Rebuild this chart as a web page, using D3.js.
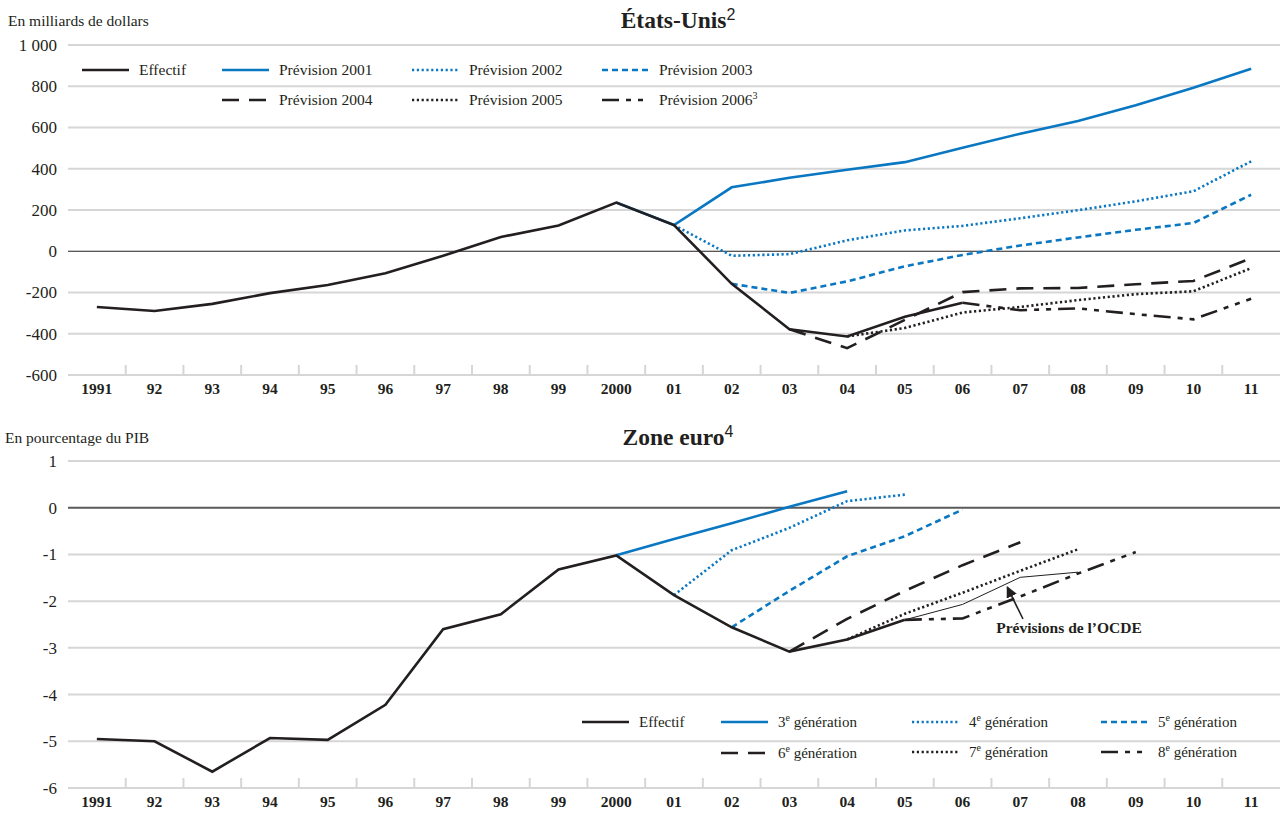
<!DOCTYPE html>
<html>
<head>
<meta charset="utf-8">
<script src="https://cdn.jsdelivr.net/npm/d3@7"></script>
<style>
  html, body { margin: 0; padding: 0; background: #fff; }
  svg { display: block; font-family: "Liberation Serif", "Times New Roman", serif; }
</style>
</head>
<body>
<svg id="chart" width="1286" height="814"></svg>
<script>
// Years on the horizontal axis (shared by both panels)
const years = d3.range(1991, 2012);
const yearLabels = ["1991","92","93","94","95","96","97","98","99","2000","01","02","03","04","05","06","07","08","09","10","11"];

// United States: budget balance, billions of dollars
const usTicks = [-600, -400, -200, 0, 200, 400, 600, 800, 1000];
const usActual = [[1991,-270],[1992,-290],[1993,-255],[1994,-203],[1995,-164],[1996,-107],[1997,-22],[1998,69],[1999,125],[2000,236],[2001,127],[2002,-158],[2003,-378],[2004,-413],[2005,-318],[2006,-250]];
const usForecast2001 = [[2000,236],[2001,127],[2002,310],[2003,356],[2004,395],[2005,432],[2006,502],[2007,570],[2008,632],[2009,708],[2010,793],[2011,885]];
const usForecast2002 = [[2001,127],[2002,-22],[2003,-14],[2004,53],[2005,101],[2006,123],[2007,160],[2008,199],[2009,242],[2010,291],[2011,436]];
const usForecast2003 = [[2002,-158],[2003,-202],[2004,-146],[2005,-73],[2006,-18],[2007,28],[2008,67],[2009,104],[2010,137],[2011,274]];
const usForecast2004 = [[2003,-378],[2004,-470],[2005,-333],[2006,-198],[2007,-180],[2008,-178],[2009,-160],[2010,-144],[2011,-34]];
const usForecast2005 = [[2004,-413],[2005,-372],[2006,-297],[2007,-270],[2008,-237],[2009,-208],[2010,-194],[2011,-82]];
const usForecast2006 = [[2006,-250],[2007,-286],[2008,-277],[2009,-305],[2010,-330],[2011,-230]];

// Euro area: budget balance, per cent of GDP
const euTicks = [-6, -5, -4, -3, -2, -1, 0, 1];
const euActual = [[1991,-4.95],[1992,-5.0],[1993,-5.65],[1994,-4.93],[1995,-4.97],[1996,-4.22],[1997,-2.6],[1998,-2.28],[1999,-1.32],[2000,-1.02],[2001,-1.87],[2002,-2.56],[2003,-3.08],[2004,-2.82],[2005,-2.4]];
const euGen3 = [[2000,-1.02],[2001,-0.67],[2002,-0.33],[2003,0.02],[2004,0.35]];
const euGen4 = [[2001,-1.87],[2002,-0.91],[2003,-0.43],[2004,0.14],[2005,0.28]];
const euGen5 = [[2002,-2.56],[2003,-1.78],[2004,-1.04],[2005,-0.61],[2006,-0.04]];
const euGen6 = [[2003,-3.08],[2004,-2.38],[2005,-1.78],[2006,-1.23],[2007,-0.74]];
const euGen7 = [[2004,-2.82],[2005,-2.27],[2006,-1.82],[2007,-1.35],[2008,-0.89]];
const euGen8 = [[2005,-2.4],[2006,-2.37],[2007,-1.9],[2008,-1.41],[2009,-0.95]];
const euOecd = [[2005,-2.4],[2006,-2.07],[2007,-1.49],[2008,-1.38]];

const BLUE = "#0a77c2";
const BLACK = "#231f20";
const GRID = "#d6d6d6";

const styles = {
  solid:   { dash: null },
  dotted:  { dash: "2.2 2.6" },
  dashed:  { dash: "6 4" },
  long:    { dash: "17 10" },
  dashdot: { dash: "17 7 5 7 5 7" }
};

const svg = d3.select("#chart");
const left = 68, right = 1280;

const x = d3.scaleBand().domain(years).range([left, right]).padding(0);
const xc = d => x(d) + x.bandwidth() / 2;

function panel(cfg) {
  const y = d3.scaleLinear().domain(cfg.domain).range([cfg.bottom, cfg.top]);
  const g = svg.append("g");

  // horizontal gridlines
  g.selectAll("line.grid").data(cfg.ticks).join("line")
    .attr("x1", left).attr("x2", right)
    .attr("y1", d => y(d)).attr("y2", d => y(d))
    .attr("stroke", d => d === 0 ? cfg.zeroColor : GRID)
    .attr("stroke-width", d => d === 0 ? cfg.zeroWidth : 2);

  // value labels on the left
  g.selectAll("text.ytick").data(cfg.ticks).join("text")
    .attr("x", 57).attr("y", d => y(d)).attr("dy", "0.35em")
    .attr("text-anchor", "end")
    .attr("font-size", 17).attr("fill", BLACK)
    .text(cfg.tickFormat);

  // x axis: inward ticks between years, bold year labels
  const xAxis = d3.axisBottom(x).tickSize(0).tickFormat((d, i) => yearLabels[i]);
  const ax = g.append("g").attr("transform", `translate(0,${cfg.bottom})`).call(xAxis);
  ax.select(".domain").remove();
  ax.selectAll("text").attr("font-family", "Liberation Serif, serif")
    .attr("font-weight", "bold").attr("font-size", 15.5).attr("fill", BLACK).attr("dy", "1.05em");
  const bounds = years.slice(1).map(yv => x(yv));
  g.selectAll("line.xtick").data(bounds).join("line")
    .attr("x1", d => d).attr("x2", d => d)
    .attr("y1", cfg.bottom - 10).attr("y2", cfg.bottom)
    .attr("stroke", GRID).attr("stroke-width", 2);

  // title
  const t = g.append("text").attr("x", cfg.titleX).attr("y", cfg.titleY)
    .attr("text-anchor", "middle").attr("fill", BLACK);
  t.append("tspan").attr("font-weight", "bold").attr("font-size", 23.5).text(cfg.title);
  t.append("tspan").attr("font-family", "Liberation Sans, Arial, sans-serif")
    .attr("font-size", 16).attr("dy", -8).text(cfg.titleNote);

  // unit label
  g.append("text").attr("x", cfg.unitX).attr("y", cfg.unitY)
    .attr("font-size", 15.5).attr("fill", BLACK).text(cfg.unit);

  const line = d3.line().x(d => xc(d[0])).y(d => y(d[1]));

  cfg.series.forEach(s => {
    g.append("path").datum(s.data)
      .attr("d", line)
      .attr("fill", "none")
      .attr("stroke", s.color)
      .attr("stroke-width", s.width || 2.6)
      .attr("stroke-dasharray", styles[s.style].dash)
      .attr("stroke-linejoin", "miter");
  });

  // legend
  cfg.series.filter(s => s.legend).forEach(s => {
    const lg = g.append("g");
    lg.append("line")
      .attr("x1", s.legend[0]).attr("x2", s.legend[0] + 47)
      .attr("y1", s.legend[1]).attr("y2", s.legend[1])
      .attr("stroke", s.color).attr("stroke-width", 2.6)
      .attr("stroke-dasharray", styles[s.style].dash);
    const tx = lg.append("text").attr("x", s.legend[0] + 57).attr("y", s.legend[1])
      .attr("dy", "0.35em").attr("font-size", cfg.legendSize).attr("fill", BLACK);
    s.label.forEach(part => {
      const sp = tx.append("tspan").text(part.t);
      if (part.sup) sp.attr("font-size", 10).attr("dy", -6);
      else if (part.after) sp.attr("dy", 6);
    });
  });

  return y;
}

// Top panel: United States
panel({
  domain: [-600, 1000], top: 45, bottom: 375, ticks: usTicks,
  tickFormat: d => d === 1000 ? "1 000" : String(d),
  zeroColor: BLACK, zeroWidth: 1.2, legendSize: 15.5,
  title: "États-Unis", titleNote: "2", titleX: 678, titleY: 28,
  unit: "En milliards de dollars", unitX: 8, unitY: 26,
  series: [
    { data: usForecast2001, color: BLUE, style: "solid", legend: [222, 70], label: [{t: "Prévision 2001"}] },
    { data: usForecast2002, color: BLUE, style: "dotted", legend: [412, 70], label: [{t: "Prévision 2002"}] },
    { data: usForecast2003, color: BLUE, style: "dashed", legend: [602, 70], label: [{t: "Prévision 2003"}] },
    { data: usForecast2004, color: BLACK, style: "long", legend: [222, 100], label: [{t: "Prévision 2004"}] },
    { data: usForecast2005, color: BLACK, style: "dotted", legend: [412, 100], label: [{t: "Prévision 2005"}] },
    { data: usForecast2006, color: BLACK, style: "dashdot", legend: [602, 100], label: [{t: "Prévision 2006"}, {t: "3", sup: true}] },
    { data: usActual, color: BLACK, style: "solid", legend: [82, 70], label: [{t: "Effectif"}] }
  ]
});

// Bottom panel: euro area
const yEu = panel({
  domain: [-6, 1], top: 461, bottom: 788, ticks: euTicks,
  tickFormat: d => String(d),
  zeroColor: "#5a5a5a", zeroWidth: 2, legendSize: 15,
  title: "Zone euro", titleNote: "4", titleX: 678, titleY: 445,
  unit: "En pourcentage du PIB", unitX: 5, unitY: 443,
  series: [
    { data: euGen3, color: BLUE, style: "solid", legend: [721, 722], label: [{t: "3"}, {t: "e", sup: true}, {t: " génération", after: true}] },
    { data: euGen4, color: BLUE, style: "dotted", legend: [912, 722], label: [{t: "4"}, {t: "e", sup: true}, {t: " génération", after: true}] },
    { data: euGen5, color: BLUE, style: "dashed", legend: [1101, 722], label: [{t: "5"}, {t: "e", sup: true}, {t: " génération", after: true}] },
    { data: euGen6, color: BLACK, style: "long", legend: [721, 753], label: [{t: "6"}, {t: "e", sup: true}, {t: " génération", after: true}] },
    { data: euGen7, color: BLACK, style: "dotted", legend: [912, 752], label: [{t: "7"}, {t: "e", sup: true}, {t: " génération", after: true}] },
    { data: euGen8, color: BLACK, style: "dashdot", legend: [1101, 752], label: [{t: "8"}, {t: "e", sup: true}, {t: " génération", after: true}] },
    { data: euOecd, color: BLACK, style: "solid", width: 1 },
    { data: euActual, color: BLACK, style: "solid", legend: [582, 722], label: [{t: "Effectif"}] }
  ]
});

// Annotation pointing at the OECD projection line
const defs = svg.append("defs");
defs.append("marker").attr("id", "arrow").attr("viewBox", "0 0 10 10")
  .attr("refX", 9).attr("refY", 5).attr("markerWidth", 7).attr("markerHeight", 7)
  .attr("orient", "auto-start-reverse")
  .append("path").attr("d", "M0,0 L10,5 L0,10 z").attr("fill", BLACK);

const tip = [xc(2007) - 13, yEu(-1.7)];
svg.append("line")
  .attr("x1", 1023).attr("y1", 619)
  .attr("x2", tip[0]).attr("y2", tip[1])
  .attr("stroke", BLACK).attr("stroke-width", 1.6)
  .attr("marker-end", "url(#arrow)");
svg.append("text").attr("x", 1069).attr("y", 633).attr("text-anchor", "middle")
  .attr("font-weight", "bold").attr("font-size", 15.5).attr("fill", BLACK)
  .text("Prévisions de l’OCDE");
</script>
</body>
</html>
